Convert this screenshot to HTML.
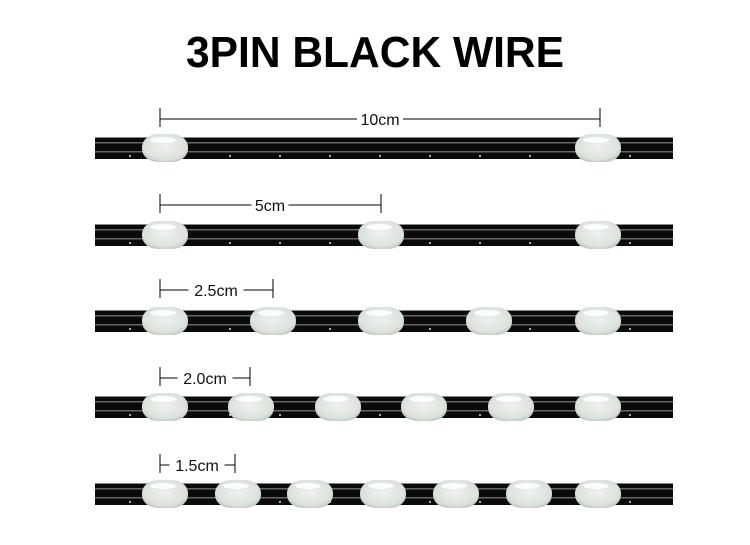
<!DOCTYPE html>
<html><head><meta charset="utf-8"><style>
html,body{margin:0;padding:0;background:#fff;width:750px;height:545px;overflow:hidden}
</style></head><body>
<svg id="s" width="750" height="545" xmlns="http://www.w3.org/2000/svg" font-family="Liberation Sans, sans-serif">
<defs>
<radialGradient id="bead" cx="50%" cy="45%" r="65%">
<stop offset="0" stop-color="#eef1ef"/><stop offset="0.7" stop-color="#dde2df"/><stop offset="1" stop-color="#b3b8b5"/>
</radialGradient>
</defs>
<text x="375" y="67" text-anchor="middle" font-size="44" font-weight="bold" textLength="378" lengthAdjust="spacingAndGlyphs" fill="#000">3PIN BLACK WIRE</text>
<g id="g"></g>
</svg>
<script>
var rows=[
 {y:148,b:[165,598],d:[160,600],ly:119,t:"10cm",tx:380},
 {y:235,b:[165,381,598],d:[160,381],ly:205,t:"5cm",tx:270},
 {y:321,b:[165,273,381,489,598],d:[160,273],ly:290,t:"2.5cm",tx:216},
 {y:407,b:[165,251,338,424,511,598],d:[160,250],ly:378,t:"2.0cm",tx:205},
 {y:494,b:[165,238,310,383,456,529,598],d:[160,235],ly:465,t:"1.5cm",tx:197}];
var h="";
rows.forEach(function(r){
 var y=r.y;
 h+='<rect x="95" y="'+(y-11)+'" width="578" height="22" fill="#0a0a0a"/>';
 h+='<rect x="95" y="'+(y-6)+'" width="578" height="1.5" fill="#666"/>';
 h+='<rect x="95" y="'+(y+3)+'" width="578" height="1.5" fill="#666"/>';
 h+='<rect x="95" y="'+(y-11)+'" width="578" height="1" fill="#888"/>';
 for(var x=130;x<670;x+=50)h+='<circle cx="'+x+'" cy="'+(y+8)+'" r="1" fill="#ddd"/>';
 r.b.forEach(function(bx){
  h+='<rect x="'+(bx-23)+'" y="'+(y-14)+'" width="46" height="28" rx="16" ry="13" fill="url(#bead)"/>';
  h+='<ellipse cx="'+(bx-2)+'" cy="'+(y-8)+'" rx="13" ry="3" fill="#fff" opacity="0.85"/>';
 });
 var a=r.d[0],b=r.d[1],ly=r.ly;
 var tw=r.t.length*9;
 h+='<line x1="'+a+'" y1="'+(ly-11)+'" x2="'+a+'" y2="'+(ly+8)+'" stroke="#000" stroke-width="1"/>';
 h+='<line x1="'+b+'" y1="'+(ly-11)+'" x2="'+b+'" y2="'+(ly+8)+'" stroke="#000" stroke-width="1"/>';
 h+='<line x1="'+a+'" y1="'+ly+'" x2="'+(r.tx-tw/2-5)+'" y2="'+ly+'" stroke="#000" stroke-width="1"/>';
 h+='<line x1="'+(r.tx+tw/2+5)+'" y1="'+ly+'" x2="'+b+'" y2="'+ly+'" stroke="#000" stroke-width="1"/>';
 h+='<text x="'+r.tx+'" y="'+(ly+6)+'" text-anchor="middle" font-size="16" fill="#111">'+r.t+'</text>';
});
document.getElementById("g").innerHTML=h;
</script>
</body></html>
